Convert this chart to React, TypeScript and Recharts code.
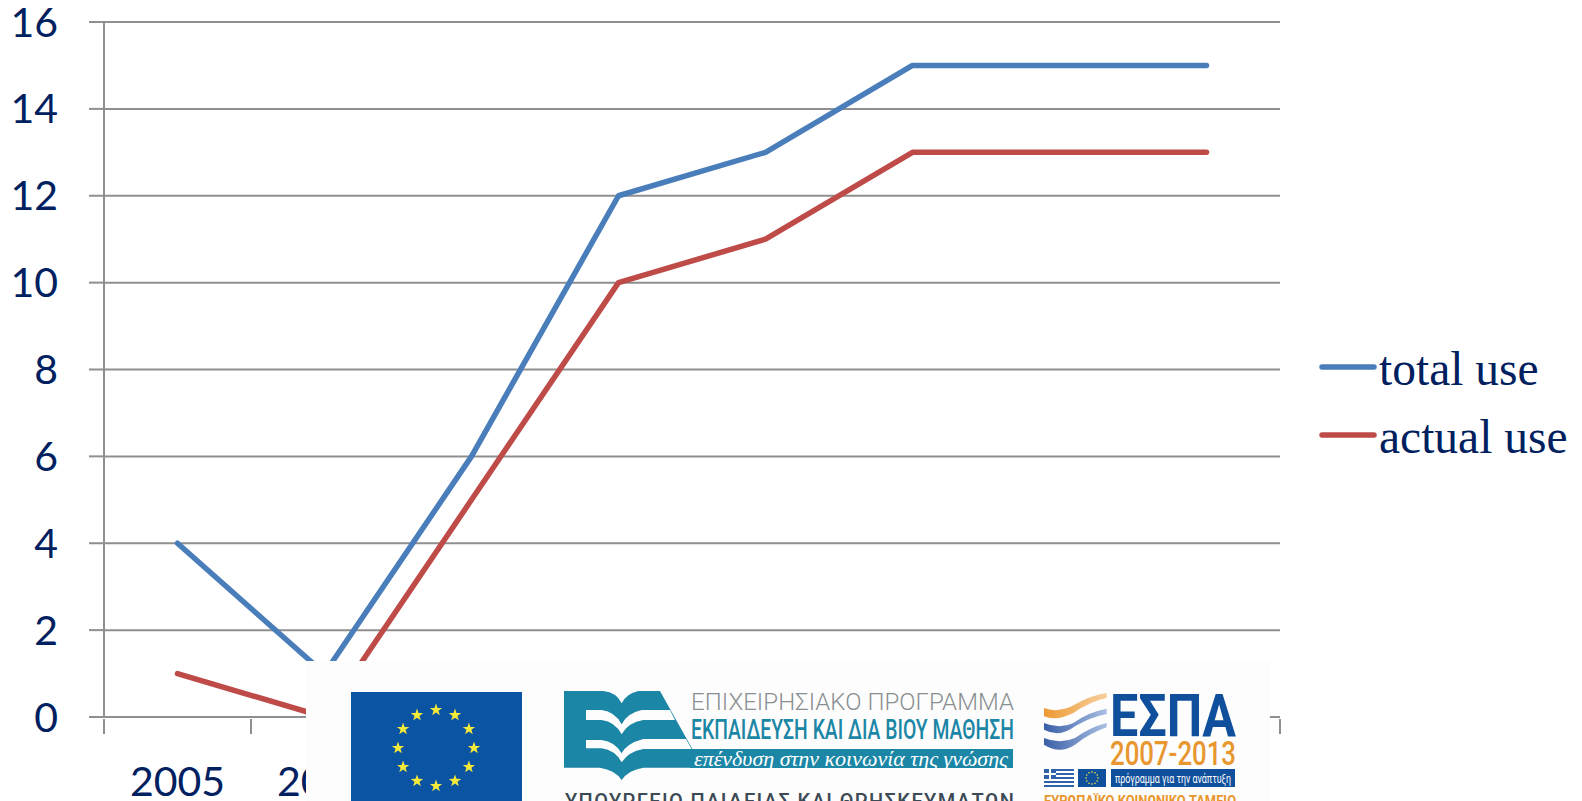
import React from 'react';
import { LineChart, Line, XAxis, YAxis, CartesianGrid, Legend } from 'recharts';

const years = ['2005', '2006', '2007', '2008', '2009', '2010', '2011', '2012'];
const totalUse = [4, 1, 6, 12, 13, 15, 15, 15];
const actualUse = [1, 0, 5, 10, 11, 13, 13, 13];
const yTicks = [0, 2, 4, 6, 8, 10, 12, 14, 16];

const rows = years.map((year, i) => ({ year, total: totalUse[i], actual: actualUse[i] }));

const INK = '#002060';
const GRID = '#8f8f8f';
const HALF_STEP = 73.5;

function XTick(props: any) {
  const { x, y, payload, index } = props;
  return (
    <g>
      <line x1={x - HALF_STEP} x2={x - HALF_STEP} y1={y} y2={y + 15} stroke={GRID} strokeWidth={2} />
      {index === years.length - 1 && (
        <line x1={x + HALF_STEP} x2={x + HALF_STEP} y1={y} y2={y + 15} stroke={GRID} strokeWidth={2} />
      )}
      <text x={x} y={y + 77} textAnchor="middle" fontFamily="Lato" fontSize={41} fill={INK}>
        {payload.value}
      </text>
    </g>
  );
}

function LegendBox(props: any) {
  const { payload } = props;
  return (
    <div style={{ paddingLeft: 39 }}>
      {(payload || []).map((p: any) => (
        <div key={p.value} style={{ height: 68, display: 'flex', alignItems: 'center', width: 263 }}>
          <svg width={60} height={10} style={{ display: 'block', flex: 'none' }}>
            <line x1={3} x2={55} y1={5} y2={5} stroke={p.color} strokeWidth={5.5} strokeLinecap="round" />
          </svg>
          <span style={{ position: 'relative', top: 2, fontFamily: 'Liberation Serif', fontSize: 47.5, color: INK, whiteSpace: 'nowrap', lineHeight: '68px' }}>
            {p.value}
          </span>
        </div>
      ))}
    </div>
  );
}

function star(cx: number, cy: number, r: number) {
  const pts: string[] = [];
  for (let i = 0; i < 10; i++) {
    const rad = i % 2 === 0 ? r : r * 0.4;
    const a = -Math.PI / 2 + (i * Math.PI) / 5;
    pts.push(`${cx + rad * Math.cos(a)},${cy + rad * Math.sin(a)}`);
  }
  return pts.join(' ');
}

const TEAL = '#1b86a5';
const BLUE = '#0f4f9c';
const ORANGE = '#e8962e';
const RING = Array.from({ length: 12 }, (_, i) => (i * Math.PI) / 6);

function Logos() {
  return (
    <svg width={1582} height={801} style={{ position: 'absolute', left: 0, top: 0, pointerEvents: 'none' }}>
      <defs>
        <linearGradient id="waveO" x1="0" x2="1" y1="0" y2="0">
          <stop offset="0" stopColor="#ee9a35" />
          <stop offset="1" stopColor="#f6cf9c" />
        </linearGradient>
        <linearGradient id="waveB" x1="0" x2="1" y1="0" y2="0">
          <stop offset="0" stopColor="#3a5fa8" />
          <stop offset="1" stopColor="#a9bfe2" />
        </linearGradient>
      </defs>
      <rect x={306} y={661} width={964} height={140} fill="#fdfdfd" />
      <rect x={351} y={692} width={171} height={109} fill="#0b54a3" />
      {RING.map((a, i) => (
        <polygon key={i} points={star(436 + 38 * Math.sin(a), 748 - 38 * Math.cos(a), 6.5)} fill="#f5e93a" />
      ))}

      <g transform="translate(560 685) scale(0.3333)">
        <path d="M12 18 H130 Q170 22 185 55 Q200 25 235 18 H300 L400 197 V248 H250 Q205 255 185 285 Q165 255 120 248 H12 Z" fill={TEAL} />
        <path d="M78 75 H125 Q165 80 185 118 Q200 85 245 75 H330 L345 105 H250 Q205 112 185 148 Q165 110 125 105 H78 Z" fill="#fdfdfd" />
        <path d="M78 165 H125 Q165 170 185 205 Q200 175 250 162 H378 L395 192 H250 Q205 200 185 232 Q165 195 125 190 H78 Z" fill="#fdfdfd" />
      </g>
      <rect x={690} y={749} width={323} height={19} fill={TEAL} />

      <text x={691} y={709.5} fontFamily="Roboto" fontWeight={300} fontSize={24} fill="#8a8f92" textLength={323} lengthAdjust="spacing">
        ΕΠΙΧΕΙΡΗΣΙΑΚΟ ΠΡΟΓΡΑΜΜΑ
      </text>
      <text x={691} y={739} fontFamily="Roboto" fontWeight={500} fontSize={27} fill={TEAL} textLength={323} lengthAdjust="spacingAndGlyphs">
        ΕΚΠΑΙΔΕΥΣΗ ΚΑΙ ΔΙΑ ΒΙΟΥ ΜΑΘΗΣΗ
      </text>
      <text x={694} y={766} fontFamily="Liberation Serif" fontStyle="italic" fontSize={20} fill="#ffffff" textLength={314} lengthAdjust="spacingAndGlyphs">
        επένδυση στην κοινωνία της γνώσης
      </text>
      <text x={565} y={808} fontFamily="Roboto" fontWeight={500} fontSize={20} fill="#3c4a55" textLength={449} lengthAdjust="spacing">
        ΥΠΟΥΡΓΕΙΟ ΠΑΙΔΕΙΑΣ ΚΑΙ ΘΡΗΣΚΕΥΜΑΤΩΝ
      </text>

      <g transform="translate(1040 688) scale(0.3333)">
        <path d="M12 60 Q50 75 95 55 Q150 22 200 15 V30 Q150 40 100 75 Q50 100 12 85 Z" fill="url(#waveO)" />
        <path d="M12 105 Q60 125 100 105 Q150 70 200 62 V78 Q150 88 105 115 Q60 150 12 125 Z" fill="url(#waveB)" />
        <path d="M12 150 Q60 170 105 150 Q150 118 200 105 V118 Q150 135 105 170 Q60 200 12 170 Z" fill="url(#waveB)" />
      </g>
      <text x={1110} y={736} fontFamily="Roboto" fontWeight={700} fontSize={60} fill={BLUE} textLength={126} lengthAdjust="spacingAndGlyphs">
        ΕΣΠΑ
      </text>
      <text x={1110} y={765} fontFamily="Roboto" fontWeight={500} fontSize={34} fill={ORANGE} textLength={126} lengthAdjust="spacingAndGlyphs">
        2007-2013
      </text>
      <rect x={1044} y={769} width={30} height={18} fill="#2f62ab" />
      {[771, 775, 779, 783].map((y) => (
        <rect key={y} x={1044} y={y} width={30} height={2} fill="#ffffff" />
      ))}
      <rect x={1044} y={769} width={12} height={10} fill="#2f62ab" />
      <rect x={1049} y={769} width={2} height={10} fill="#ffffff" />
      <rect x={1044} y={773} width={12} height={2} fill="#ffffff" />
      <rect x={1078} y={769} width={28} height={18} fill={BLUE} />
      {RING.map((a, i) => (
        <circle key={i} cx={1092 + 6 * Math.sin(a)} cy={778 - 6 * Math.cos(a)} r={0.8} fill="#f5e93a" />
      ))}
      <rect x={1111} y={769} width={124} height={18} fill={BLUE} />
      <text x={1173} y={783} textAnchor="middle" fontFamily="Roboto" fontSize={13} fill="#ffffff" textLength={116} lengthAdjust="spacingAndGlyphs">
        πρόγραμμα για την ανάπτυξη
      </text>
      <text x={1044} y={806} fontFamily="Roboto" fontWeight={700} fontSize={15} fill={ORANGE} textLength={192} lengthAdjust="spacingAndGlyphs">
        ΕΥΡΩΠΑΪΚΟ ΚΟΙΝΩΝΙΚΟ ΤΑΜΕΙΟ
      </text>
    </svg>
  );
}

export default function App() {
  return (
    <div style={{ position: 'absolute', left: 0, top: 0, width: 1582, height: 801, overflow: 'hidden', background: '#fff' }}>
      <LineChart width={1582} height={801} data={rows} margin={{ top: 22, right: 0, bottom: 0, left: 0 }}>
        <CartesianGrid horizontal vertical={false} stroke={GRID} strokeWidth={2} />
        <XAxis
          dataKey="year"
          height={84}
          interval={0}
          padding={{ left: HALF_STEP, right: HALF_STEP }}
          axisLine={{ stroke: GRID, strokeWidth: 2 }}
          tickLine={false}
          tickSize={0}
          tick={<XTick />}
        />
        <YAxis
          width={104}
          domain={[0, 16]}
          ticks={yTicks}
          interval={0}
          axisLine={{ stroke: GRID, strokeWidth: 2 }}
          tickLine={{ stroke: GRID, strokeWidth: 2 }}
          tickSize={15}
          tickMargin={31}
          tick={{ fontFamily: 'Lato', fontSize: 41, fill: INK }}
        />
        <Legend layout="vertical" align="right" verticalAlign="middle" width={302} itemSorter={null} content={<LegendBox />} />
        <Line dataKey="total" name="total use" stroke="#4a7ebb" strokeWidth={5.5} strokeLinecap="round" strokeLinejoin="round" dot={false} isAnimationActive={false} />
        <Line dataKey="actual" name="actual use" stroke="#be4b48" strokeWidth={5.5} strokeLinecap="round" strokeLinejoin="round" dot={false} isAnimationActive={false} />
      </LineChart>
      <Logos />
    </div>
  );
}
